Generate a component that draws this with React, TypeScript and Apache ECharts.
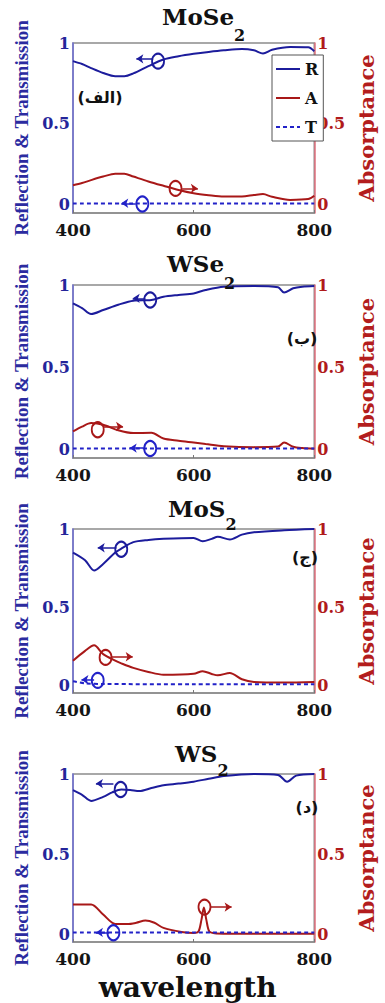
import React, { useEffect, useRef } from 'react';
import * as echarts from 'echarts';

// ---------- data ----------
const PANEL_NAMES = ['MoSe', 'WSe', 'MoS', 'WS'];
const PANEL_LETTERS = ['(الف)', '(ب)', '(ج)', '(د)'];
const Y_TICKS = [0, 0.5, 1];

// Panel 1: MoSe2
const WL1 = [400, 415, 430, 450, 470, 485, 500, 525, 550, 575, 600, 625, 650, 680, 700, 715, 730, 760, 790, 800];
const R1 = [0.888, 0.87, 0.845, 0.815, 0.795, 0.795, 0.812, 0.857, 0.898, 0.918, 0.933, 0.945, 0.955, 0.963, 0.955, 0.935, 0.958, 0.975, 0.973, 0.949];
const A1 = [0.122, 0.135, 0.153, 0.175, 0.193, 0.193, 0.175, 0.145, 0.118, 0.092, 0.072, 0.06, 0.052, 0.052, 0.061, 0.067, 0.05, 0.031, 0.036, 0.057];
const WLT1 = [400, 500, 600, 700, 800];
const T1 = [0.008, 0.008, 0.008, 0.008, 0.008];

// Panel 2: WSe2
const WL2 = [400, 415, 430, 450, 475, 500, 530, 550, 575, 600, 620, 650, 700, 740, 750, 765, 780, 800];
const R2 = [0.889, 0.86, 0.824, 0.848, 0.88, 0.905, 0.909, 0.929, 0.94, 0.949, 0.97, 0.99, 0.994, 0.986, 0.954, 0.98, 0.99, 0.994];
const A2 = [0.111, 0.14, 0.162, 0.152, 0.118, 0.101, 0.103, 0.068, 0.055, 0.044, 0.035, 0.022, 0.016, 0.02, 0.044, 0.018, 0.01, 0.006];
const WLT2 = [400, 500, 600, 700, 800];
const T2 = [0.008, 0.008, 0.008, 0.008, 0.008];

// Panel 3: MoS2
const WL3 = [400, 420, 435, 450, 470, 480, 500, 525, 550, 600, 615, 630, 640, 660, 680, 700, 750, 800];
const R3 = [0.849, 0.8, 0.734, 0.776, 0.849, 0.874, 0.916, 0.93, 0.937, 0.943, 0.922, 0.937, 0.95, 0.933, 0.964, 0.979, 0.992, 1.0];
const A3 = [0.157, 0.22, 0.255, 0.199, 0.157, 0.14, 0.111, 0.085, 0.067, 0.073, 0.09, 0.072, 0.063, 0.078, 0.038, 0.021, 0.017, 0.021];
const WLT3 = [400, 420, 450, 600, 800];
const T3 = [0.025, 0.012, 0.008, 0.006, 0.006];

// Panel 4: WS2
const WL4 = [400, 415, 430, 450, 465, 480, 495, 510, 530, 550, 575, 600, 625, 650, 700, 740, 755, 770, 800];
const R4 = [0.899, 0.87, 0.832, 0.857, 0.885, 0.903, 0.9, 0.893, 0.912, 0.93, 0.94, 0.952, 0.97, 0.987, 1.0, 0.994, 0.952, 0.99, 1.0];
const WLA4 = [400, 430, 450, 470, 490, 505, 520, 535, 550, 580, 600, 608, 613, 617, 621, 626, 635, 650, 700, 800];
const A4 = [0.185, 0.185, 0.122, 0.063, 0.062, 0.07, 0.084, 0.07, 0.038, 0.013, 0.006, 0.015, 0.09, 0.165, 0.09, 0.015, 0.004, 0.002, 0.002, 0.002];
const WLT4 = [400, 500, 600, 700, 800];
const T4 = [0.01, 0.01, 0.01, 0.01, 0.01];

// circle markers [wavelength, value]
const MARK_R = [[541, 0.888], [528, 0.909], [480, 0.87], [479, 0.903]];
const MARK_A = [[570, 0.102], [441, 0.121], [454, 0.178], [618, 0.168]];
const MARK_T = [[515, 0.006], [528, 0.008], [441, 0.031], [467, 0.008]];
// arrows [from wavelength, to wavelength, value]
const ARROW_R = [[533, 505, 0.902], [520, 499, 0.919], [472, 441, 0.88], [467, 438, 0.94]];
const ARROW_A = [[581, 607, 0.102], [451, 483, 0.141], [464, 499, 0.182], [628, 663, 0.168]];
const ARROW_T = [[504, 480, 0.01], [517, 494, 0.01], [435, 414, 0.035], [460, 438, 0.01]];

const PANELS = [
  { wl: WL1, r: R1, wlA: WL1, a: A1, wlT: WLT1, t: T1 },
  { wl: WL2, r: R2, wlA: WL2, a: A2, wlT: WLT2, t: T2 },
  { wl: WL3, r: R3, wlA: WL3, a: A3, wlT: WLT3, t: T3 },
  { wl: WL4, r: R4, wlA: WLA4, a: A4, wlT: WLT4, t: T4 },
];

// ---------- layout ----------
const GRID_LEFT = 73;
const GRID_W = 252;
const GRID_TOPS = [43, 285, 529, 774];
const GRID_H = [170, 173, 164, 168];
const TITLE_X = [162, 167, 168, 175];
const TITLE_MID = [17, 264, 509, 754];
const SUB_DROP = [18, 19, 15, 16];
const LETTER_POS = [[100, 97], [302, 338], [305, 557], [307, 807]];

const C_R = '#1c1c9c';
const C_A = '#a81818';
const C_T = '#2222c8';
const SERIF_W = 'DejaVu Serif';

const zip = (xs: number[], ys: number[]) => xs.map((x, i) => [x, ys[i]]);
const yFmt = (v: number) =>
  Y_TICKS.some((t) => Math.abs(t - v) < 1e-6) ? String(Math.round(v * 10) / 10) : '';

const marks = (color: string, pt: number[], ar: number[]) => ({
  markPoint: {
    symbol: 'circle',
    symbolSize: [12, 15],
    silent: true,
    label: { show: false },
    itemStyle: { color: 'rgba(0,0,0,0)', borderColor: color, borderWidth: 2 },
    data: [{ coord: [pt[0], pt[1]] }],
  },
  markLine: {
    symbol: ['none', 'arrow'],
    symbolSize: 7,
    silent: true,
    label: { show: false },
    lineStyle: { color, width: 1.5, type: 'solid' },
    data: [[{ coord: [ar[0], ar[2]] }, { coord: [ar[1], ar[2]] }]],
  },
});

export default function App() {
  const ref = useRef<HTMLDivElement>(null);
  useEffect(() => {
    if (!ref.current) return;
    const chart = echarts.init(ref.current, null, { renderer: 'svg' });

    const grid = PANELS.map((_, i) => ({
      left: GRID_LEFT,
      top: GRID_TOPS[i],
      width: GRID_W,
      height: GRID_H[i],
      show: true,
      borderColor: '#8c8c8c',
      borderWidth: 1.5,
      backgroundColor: '#fff',
    }));

    const xAxis = PANELS.map((_, i) => ({
      type: 'value',
      gridIndex: i,
      min: 400,
      max: 800,
      interval: 200,
      axisLine: { show: true, onZero: false, lineStyle: { color: '#8c8c8c', width: 1.5 } },
      axisTick: { show: true, inside: true, length: 3, lineStyle: { color: '#777' } },
      splitLine: { show: false },
      axisLabel: { color: '#151515', fontFamily: SERIF_W, fontWeight: 'bold', fontSize: 17, margin: 8 },
      name: i === 3 ? 'wavelength' : '',
      nameLocation: 'middle',
      nameGap: 31,
      nameTextStyle: {
        color: '#111',
        fontFamily: SERIF_W,
        fontWeight: 'bold',
        fontSize: 28,
        padding: [0, 12, 0, 0],
      },
    }));

    const yAxis: any[] = [];
    PANELS.forEach((_, i) => {
      yAxis.push({
        type: 'value',
        gridIndex: i,
        position: 'left',
        min: -0.05,
        max: 1,
        interval: 0.05,
        axisLine: { show: true, onZero: false, lineStyle: { color: '#6f6fd6', width: 1.5 } },
        axisTick: { show: false },
        splitLine: { show: false },
        axisLabel: { formatter: yFmt, color: '#25259a', fontFamily: SERIF_W, fontWeight: 'bold', fontSize: 16, margin: 3 },
        name: 'Reflection & Transmission',
        nameLocation: 'middle',
        nameGap: 42,
        nameTextStyle: { color: '#2b2ba0', fontFamily: 'Liberation Serif', fontWeight: 'bold', fontSize: 19 },
      });
      yAxis.push({
        type: 'value',
        gridIndex: i,
        position: 'right',
        min: -0.05,
        max: 1,
        interval: 0.05,
        axisLine: { show: true, onZero: false, lineStyle: { color: '#e0707e', width: 1.5 } },
        axisTick: { show: false },
        splitLine: { show: false },
        axisLabel: { formatter: yFmt, color: '#b01a1a', fontFamily: SERIF_W, fontWeight: 'bold', fontSize: 16, margin: 3 },
        name: 'Absorptance',
        nameLocation: 'middle',
        nameGap: 40,
        nameTextStyle: { color: '#b31d1d', fontFamily: SERIF_W, fontWeight: 'bold', fontSize: 21 },
      });
    });

    const series: any[] = [];
    PANELS.forEach((p, i) => {
      series.push({
        type: 'line', name: 'R', xAxisIndex: i, yAxisIndex: 2 * i,
        data: zip(p.wl, p.r), symbol: 'none', smooth: 0.3,
        lineStyle: { color: C_R, width: 2 }, itemStyle: { color: C_R },
        ...marks(C_R, MARK_R[i], ARROW_R[i]),
      });
      series.push({
        type: 'line', name: 'A', xAxisIndex: i, yAxisIndex: 2 * i + 1,
        data: zip(p.wlA, p.a), symbol: 'none', smooth: 0.3,
        lineStyle: { color: C_A, width: 2 }, itemStyle: { color: C_A },
        ...marks(C_A, MARK_A[i], ARROW_A[i]),
      });
      series.push({
        type: 'line', name: 'T', xAxisIndex: i, yAxisIndex: 2 * i,
        data: zip(p.wlT, p.t), symbol: 'none', smooth: 0.3,
        lineStyle: { color: C_T, width: 2, type: [4, 3] }, itemStyle: { color: C_T },
        ...marks(C_T, MARK_T[i], ARROW_T[i]),
      });
    });

    const graphic: any[] = [];
    PANELS.forEach((_, i) => {
      graphic.push({
        type: 'text', x: TITLE_X[i], y: TITLE_MID[i] - 12, z: 100,
        style: {
          text: `{m|${PANEL_NAMES[i]}}{s|2}`,
          align: 'left',
          verticalAlign: 'top',
          fill: '#111',
          rich: {
            m: { font: `bold 23px "${SERIF_W}"`, lineHeight: 24, verticalAlign: 'top', fill: '#111' },
            s: {
              font: `bold 16px "${SERIF_W}"`, lineHeight: 16, verticalAlign: 'top', fill: '#111',
              padding: [12 + SUB_DROP[i] - 8, 0, 0, 0],
            },
          },
        },
      });
      graphic.push({
        type: 'text', x: LETTER_POS[i][0], y: LETTER_POS[i][1], z: 100,
        style: { text: PANEL_LETTERS[i], font: 'bold 16px "DejaVu Sans"', fill: '#111', align: 'center', verticalAlign: 'middle' },
      });
    });

    chart.setOption({
      animation: false,
      backgroundColor: '#fff',
      grid,
      xAxis,
      yAxis,
      series,
      graphic,
      legend: {
        data: ['R', 'A', 'T'],
        left: 272,
        top: 55,
        orient: 'vertical',
        itemWidth: 24,
        itemHeight: 12,
        itemGap: 13,
        padding: [6, 5, 6, 3],
        borderColor: '#555',
        borderWidth: 1,
        backgroundColor: '#fff',
        selectedMode: false,
        itemStyle: { opacity: 0 },
        textStyle: { fontFamily: SERIF_W, fontWeight: 'bold', fontSize: 16, color: '#111' },
      },
    });
    return () => chart.dispose();
  }, []);
  return (
    <div
      ref={ref}
      style={{ position: 'absolute', left: 0, top: 0, width: 385, height: 1003, background: '#fff' }}
    />
  );
}
